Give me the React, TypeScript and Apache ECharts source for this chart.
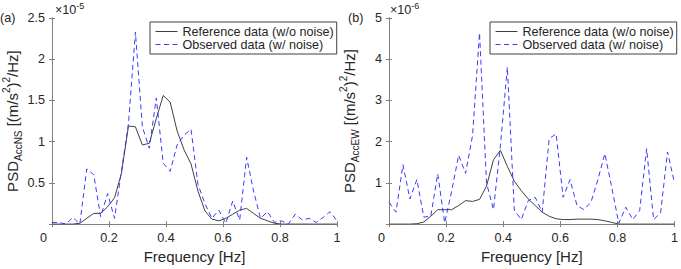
import React, { useEffect, useRef } from "react";
import * as echarts from "echarts";

// Frequency samples [Hz]
const freq = [
  0, 0.0244, 0.0488, 0.0732, 0.0976, 0.122, 0.1463, 0.1707, 0.1951, 0.2195,
  0.2439, 0.2683, 0.2927, 0.3171, 0.3415, 0.3659, 0.3902, 0.4146, 0.439, 0.4634,
  0.4878, 0.5122, 0.5366, 0.561, 0.5854, 0.6098, 0.6341, 0.6585, 0.6829, 0.7073,
  0.7317, 0.7561, 0.7805, 0.8049, 0.8293, 0.8537, 0.878, 0.9024, 0.9268, 0.9512,
  0.9756, 1.0,
];

// (a) PSD AccNS, units of 1e-5 (m/s^2)^2/Hz
const refNS = [
  0, 0, 0, 0, 0.01, 0.07, 0.13, 0.13, 0.21, 0.32,
  0.62, 1.19, 1.18, 0.96, 0.98, 1.28, 1.56, 1.48, 1.13, 0.9,
  0.73, 0.4, 0.16, 0.06, 0.04, 0.07, 0.12, 0.17, 0.19, 0.13,
  0.07, 0.04, 0.01, 0, 0, 0, 0, 0, 0, 0,
  0, 0,
];
const obsNS = [
  0.02, 0.02, 0.0, 0.08, 0.0, 0.67, 0.6, 0.09, 0.37, 0.07,
  0.65, 1.22, 2.33, 1.18, 0.92, 1.53, 0.74, 0.64, 0.96, 1.08,
  1.15, 0.48, 0.25, 0.07, 0.17, 0.01, 0.28, 0.05, 0.81, 0.4,
  0.07, 0.15, 0.02, 0.04, 0.0, 0.12, 0.05, 0.07, 0.02, 0.08,
  0.15, 0.04,
];

// (b) PSD AccEW, units of 1e-6 (m/s^2)^2/Hz
const refEW = [
  0, 0, 0, 0, 0.01, 0.05, 0.19, 0.35, 0.35, 0.35,
  0.45, 0.57, 0.55, 0.6, 0.92, 1.56, 1.79, 1.4, 1.04, 0.81,
  0.61, 0.45, 0.29, 0.19, 0.13, 0.11, 0.11, 0.12, 0.12, 0.12,
  0.11, 0.08, 0.04, 0.0, 0, 0, 0, 0, 0, 0,
  0, 0,
];
const obsEW = [
  0.53, 0.29, 1.44, 0.61, 1.08, 0.17, 0.19, 1.22, 0.03, 0.8,
  1.67, 1.23, 2.15, 4.64, 1.0, 0.35, 1.9, 3.81, 0.34, 0.11,
  0.57, 0.65, 0.29, 2.07, 2.19, 0.65, 1.08, 0.45, 0.35, 0.53,
  1.08, 1.71, 0.88, 0.02, 0.41, 0.11, 0.33, 1.83, 0.11, 0.27,
  1.75, 1.0,
];

const REF_NAME = "Reference data (w/o noise)";
const OBS_NAME = "Observed data (w/ noise)";
const FONT = "'Liberation Sans', Arial, Helvetica, sans-serif";
const TEXT = "#262626";
const AXIS = "#808080";

function App() {
  const ref = useRef<HTMLDivElement>(null);

  useEffect(() => {
    if (!ref.current) return;
    const chart = echarts.init(ref.current, undefined, { renderer: "svg" });

    const pairs = (ys: number[]) => freq.map((f, i) => [f, ys[i]]);

    const subSup = {
      sub: { fontSize: 10, verticalAlign: "bottom", fontFamily: FONT, color: TEXT },
      sup: { fontSize: 10, verticalAlign: "top", fontFamily: FONT, color: TEXT },
      b: { fontSize: 15, fontFamily: FONT, color: TEXT },
    };

    const xBottom = (gi: number, shift: number) => ({
      type: "value",
      gridIndex: gi,
      min: 0,
      max: 1,
      interval: 0.2,
      position: "bottom",
      name: "Frequency [Hz]",
      nameLocation: "middle",
      nameGap: 24,
      nameTextStyle: { fontSize: 15, color: TEXT, fontFamily: FONT },
      axisLine: { show: true, lineStyle: { color: AXIS, width: 1 } },
      axisTick: { show: true, inside: true, length: 3, lineStyle: { color: AXIS } },
      splitLine: { show: false },
      axisLabel: {
        fontSize: 12.6,
        color: TEXT,
        fontFamily: FONT,
        margin: 7,
        formatter: (v: number) => (v === 0 ? "{z|0}" : String(Math.round(v * 10) / 10)),
        rich: { z: { fontSize: 12.6, color: TEXT, fontFamily: FONT, padding: [0, shift, 0, 0] } },
      },
    });
    const xTop = (gi: number) => ({
      type: "value",
      gridIndex: gi,
      min: 0,
      max: 1,
      interval: 0.2,
      position: "top",
      axisLine: { show: true, lineStyle: { color: AXIS, width: 1 } },
      axisTick: { show: true, inside: true, length: 3, lineStyle: { color: AXIS } },
      axisLabel: { show: false },
      splitLine: { show: false },
    });
    const yLeft = (gi: number, max: number, interval: number, name: string) => ({
      type: "value",
      gridIndex: gi,
      min: 0,
      max,
      interval,
      position: "left",
      name,
      nameLocation: "middle",
      nameRotate: 90,
      nameGap: 29,
      nameTextStyle: { fontSize: 15, lineHeight: 22, color: TEXT, fontFamily: FONT, rich: subSup },
      axisLine: { show: true, lineStyle: { color: AXIS, width: 1 } },
      axisTick: { show: true, inside: true, length: 3, lineStyle: { color: AXIS } },
      splitLine: { show: false },
      axisLabel: {
        fontSize: 12.6,
        color: TEXT,
        fontFamily: FONT,
        margin: 7,
        formatter: (v: number) => (v === 0 ? "" : String(Math.round(v * 10) / 10)),
      },
    });
    const yRight = (gi: number, max: number, interval: number) => ({
      type: "value",
      gridIndex: gi,
      min: 0,
      max,
      interval,
      position: "right",
      axisLine: { show: true, lineStyle: { color: AXIS, width: 1 } },
      axisTick: { show: true, inside: true, length: 3, lineStyle: { color: AXIS } },
      axisLabel: { show: false },
      splitLine: { show: false },
    });

    const refStyle = { color: "#404040", width: 1, type: "solid" };
    const obsStyle = { color: "#3a3aff", width: 1, type: [5, 3.5] };

    const legend = (left: number) => ({
      left,
      top: 22,
      orient: "vertical",
      data: [REF_NAME, OBS_NAME],
      itemWidth: 22,
      itemHeight: 10,
      itemGap: 0,
      itemTextGap: 1,
      padding: [3, 3, 3, 5],
      borderColor: "#404040",
      borderWidth: 1,
      backgroundColor: "#ffffff",
      selectedMode: false,
      itemStyle: { opacity: 0 },
      lineStyle: { width: 1 },
      textStyle: { fontSize: 12.6, color: TEXT, fontFamily: FONT },
    });

    chart.setOption({
      animation: false,
      backgroundColor: "#ffffff",
      grid: [
        { left: 52, top: 18, width: 285, height: 211, containLabel: false },
        { left: 389, top: 18, width: 290, height: 211, containLabel: false },
      ],
      xAxis: [xBottom(0, 17), xTop(0), xBottom(1, 15), xTop(1)],
      yAxis: [
        yLeft(0, 2.5, 0.5, "{b|PSD}{sub|AccNS}{b| [(m/s}{sup|2}{b|)}{sup|2}{b|/Hz]}"),
        yRight(0, 2.5, 0.5),
        yLeft(1, 5, 1, "{b|PSD}{sub|AccEW}{b| [(m/s}{sup|2}{b|)}{sup|2}{b|/Hz]}"),
        yRight(1, 5, 1),
      ],
      legend: [legend(150), legend(490)],
      series: [
        { name: REF_NAME, type: "line", xAxisIndex: 0, yAxisIndex: 0, data: pairs(refNS), symbol: "none", lineStyle: refStyle, itemStyle: { color: refStyle.color } },
        { name: OBS_NAME, type: "line", xAxisIndex: 0, yAxisIndex: 0, data: pairs(obsNS), symbol: "none", lineStyle: obsStyle, itemStyle: { color: obsStyle.color } },
        { name: REF_NAME, type: "line", xAxisIndex: 2, yAxisIndex: 2, data: pairs(refEW), symbol: "none", lineStyle: refStyle, itemStyle: { color: refStyle.color } },
        { name: OBS_NAME, type: "line", xAxisIndex: 2, yAxisIndex: 2, data: pairs(obsEW), symbol: "none", lineStyle: obsStyle, itemStyle: { color: obsStyle.color } },
      ],
      graphic: [
        { type: "text", left: 0, top: 11, style: { text: "(a)", fontSize: 12.6, fontFamily: FONT, fill: TEXT } },
        { type: "text", left: 348, top: 11, style: { text: "(b)", fontSize: 12.6, fontFamily: FONT, fill: TEXT } },
        {
          type: "text",
          left: 55,
          top: 1,
          style: {
            text: "×10{sup|-5}",
            fontSize: 12.6,
            lineHeight: 17,
            fontFamily: FONT,
            fill: TEXT,
            rich: { sup: { fontSize: 9, verticalAlign: "top", fontFamily: FONT, fill: TEXT } },
          },
        },
        {
          type: "text",
          left: 390,
          top: 1,
          style: {
            text: "×10{sup|-6}",
            fontSize: 12.6,
            lineHeight: 17,
            fontFamily: FONT,
            fill: TEXT,
            rich: { sup: { fontSize: 9, verticalAlign: "top", fontFamily: FONT, fill: TEXT } },
          },
        },
      ],
    });

    return () => chart.dispose();
  }, []);

  return (
    <div
      ref={ref}
      style={{ position: "fixed", left: 0, top: 0, width: 681, height: 269, background: "#fff" }}
    />
  );
}

export default App;
